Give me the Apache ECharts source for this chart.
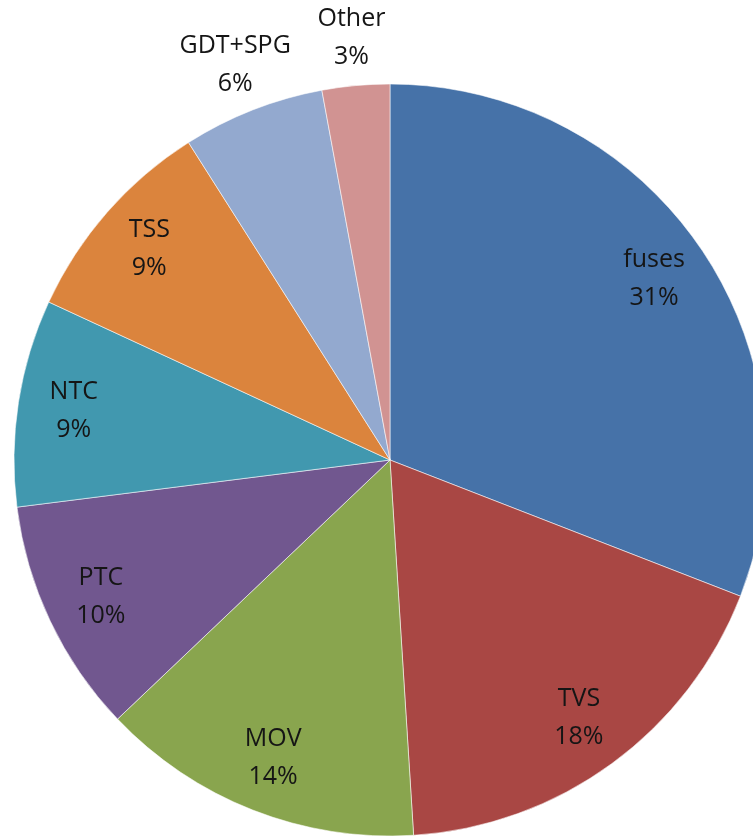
<!DOCTYPE html>
<html>
<head>
<meta charset="utf-8">
<style>
  html, body { margin: 0; padding: 0; background: #fff; }
  #chart { width: 753px; height: 836px; }
</style>
<script src="https://cdn.jsdelivr.net/npm/echarts@6/dist/echarts.min.js"></script>
</head>
<body>
<div id="chart"></div>
<script>
// slice data, clockwise from 12 o'clock
const categories = ['fuses', 'TVS', 'MOV', 'PTC', 'NTC', 'TSS', 'GDT+SPG', 'Other'];
const shares = [30.9, 18.1, 13.9, 10.1, 8.9, 9.1, 6.1, 2.9];
const colors = ['#4672A8', '#A94744', '#89A54E', '#71578F', '#4198AF', '#DB843D', '#93A9CF', '#D19392'];
// small slices get their labels outside the pie
const outsideLabels = ['GDT+SPG', 'Other'];

const chart = echarts.init(document.getElementById('chart'));

const center = [390, 460];
const labelText = {
  color: '#151515',
  fontFamily: 'Open Sans',
  fontSize: 25,
  lineHeight: 38,
  formatter: (p) => p.name + '\n' + Math.round(p.percent) + '%',
};

const baseData = categories.map((name, i) => ({ name, value: shares[i] }));

const option = {
  animation: false,
  series: [
    {
      // the visible pie
      type: 'pie',
      center,
      radius: 376,
      startAngle: 90,
      silent: true,
      label: { show: false },
      labelLine: { show: false },
      itemStyle: { borderColor: 'rgba(255,255,255,0.55)', borderWidth: 1 },
      data: baseData.map((d, i) => ({ ...d, itemStyle: { color: colors[i] } })),
    },
    {
      // invisible ring carrying the inner labels
      type: 'pie',
      center,
      radius: [258, 376],
      startAngle: 90,
      silent: true,
      avoidLabelOverlap: false,
      itemStyle: { color: 'rgba(0,0,0,0)' },
      label: { position: 'inside', ...labelText },
      labelLine: { show: false },
      data: baseData.map((d) => ({ ...d, label: { show: !outsideLabels.includes(d.name) } })),
    },
    {
      // invisible ring carrying the outer labels
      type: 'pie',
      center,
      radius: [380, 462],
      startAngle: 90,
      silent: true,
      avoidLabelOverlap: false,
      itemStyle: { color: 'rgba(0,0,0,0)' },
      label: { position: 'inside', ...labelText },
      labelLine: { show: false },
      data: baseData.map((d) => ({ ...d, label: { show: outsideLabels.includes(d.name) } })),
    },
  ],
};

chart.setOption(option);
</script>
</body>
</html>
